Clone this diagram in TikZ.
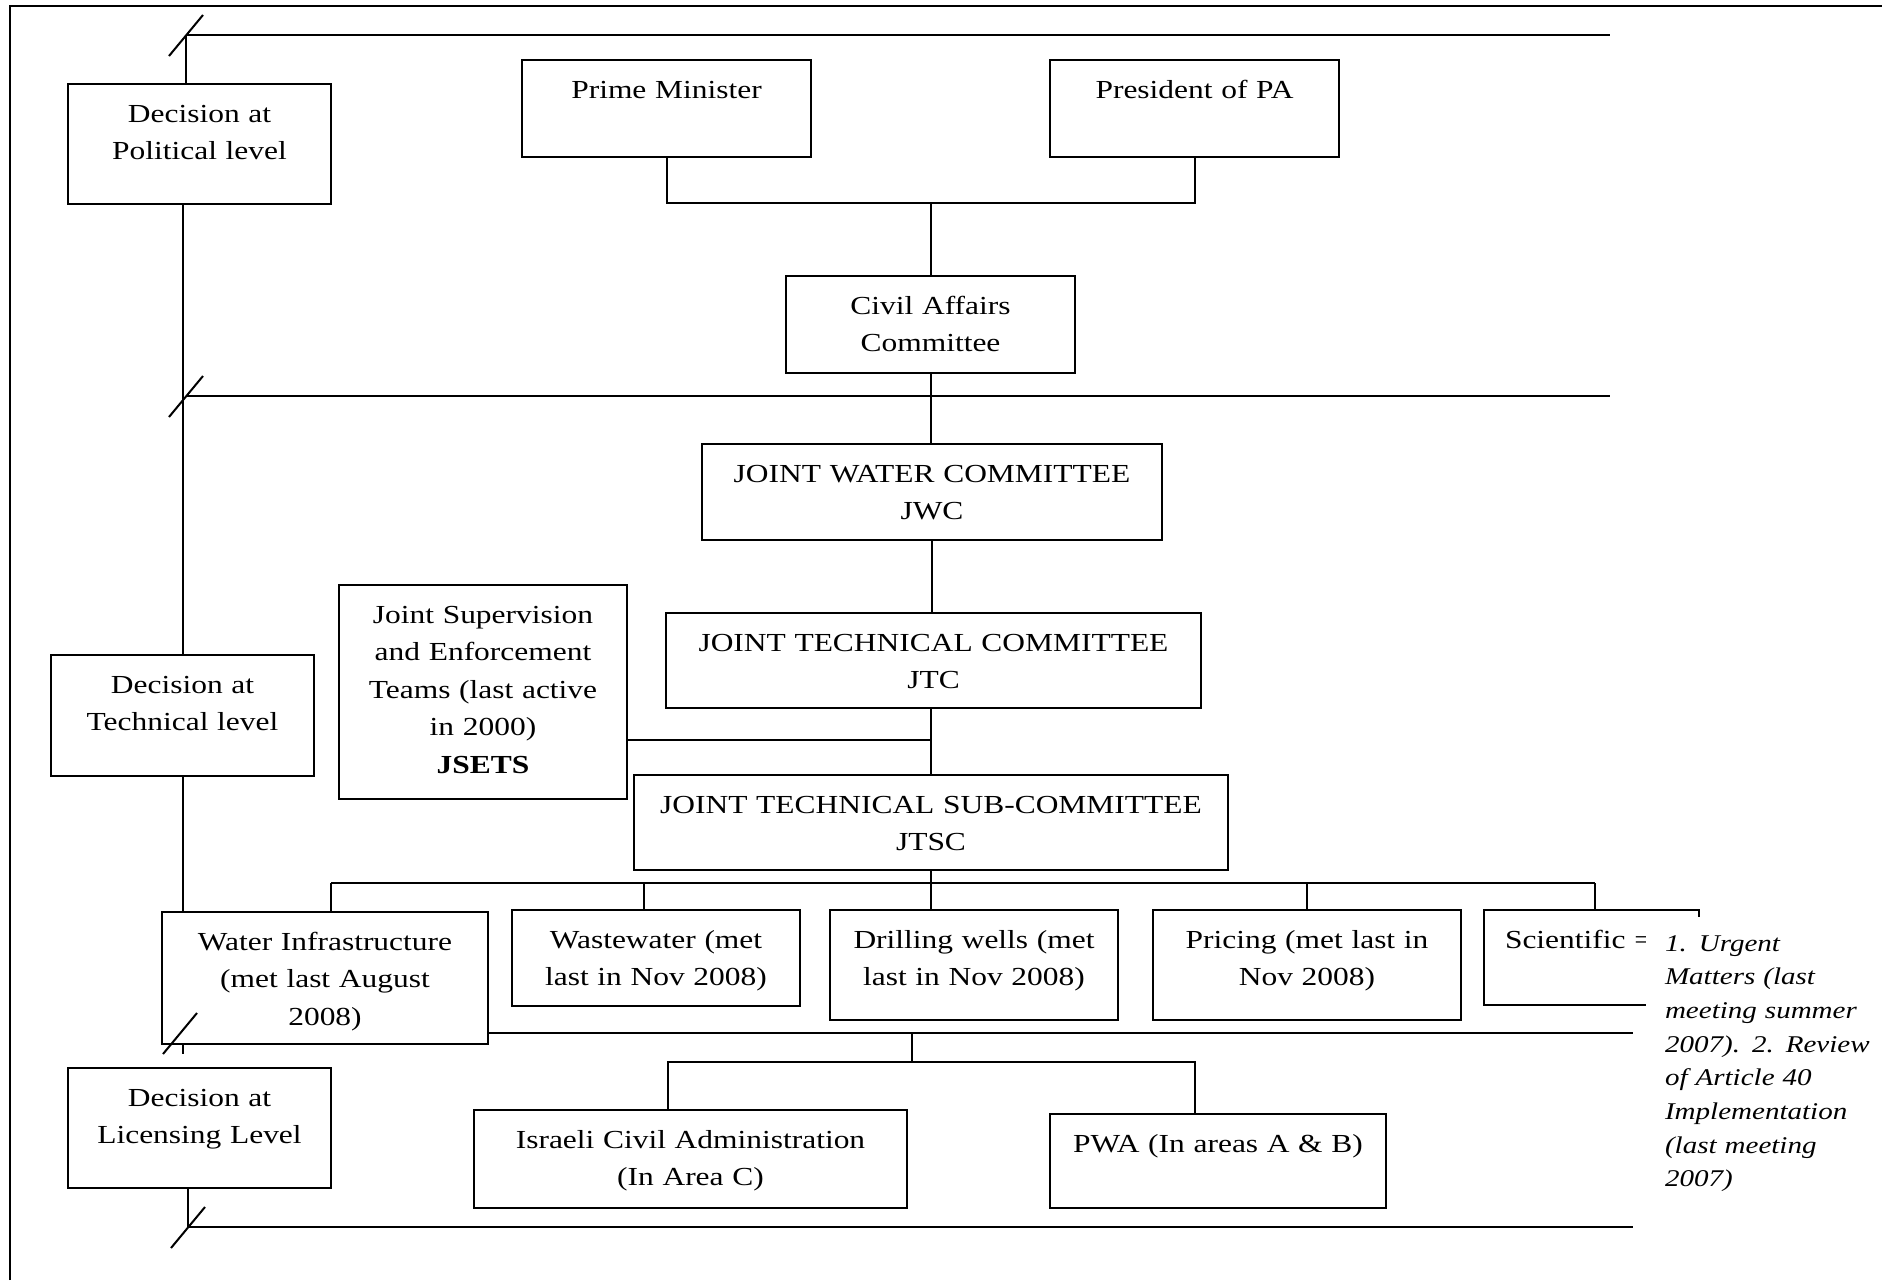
\documentclass[tikz,border=0pt]{standalone}
\usepackage{fontspec}
\setmainfont{Liberation Serif}[FakeStretch=1.21]

\begin{document}
\begin{tikzpicture}[x=0.5pt,y=-0.5pt,line width=1pt]
\tikzstyle{every node}=[font=\fontsize{13}{18.75}\selectfont]
\tikzstyle{box}=[draw, fill=white, inner sep=0pt, align=center, anchor=north, text height=19pt]
\tikzstyle{note}=[fill=white, inner xsep=9.5pt, inner ysep=0pt, anchor=north west, align=left, text width=115pt, text height=17pt, font=\fontsize{12}{16.85}\selectfont\itshape]

\useasboundingbox (0,0) rectangle (1882,1280);
\draw (10,1280) -- (10,6) -- (1882,6);

\node[box, text width=131.5pt, text depth=41pt] (pol) at (199.5,83) {Decision at\\Political level};
\node[box, text width=131.5pt, text depth=41.5pt] (tech) at (182.5,654) {Decision at\\Technical level};
\node[box, text width=131.5pt, text depth=41pt] (lic) at (199.5,1067) {Decision at\\Licensing Level};

\node[box, text width=144.5pt, text depth=29.5pt] (pm) at (666.5,59) {Prime Minister};
\node[box, text width=144.5pt, text depth=29.5pt] (pres) at (1194.5,59) {President of PA};
\node[box, text width=144.5pt, text depth=29.5pt] (civil) at (930.5,275) {Civil Affairs\\Committee};
\node[box, text width=230pt, text depth=29pt] (jwc) at (932,443) {JOINT WATER COMMITTEE\\JWC};
\node[box, text width=144pt, text depth=88pt] (jsets) at (483,584) {Joint Supervision\\and Enforcement\\Teams (last active\\in 2000)\\\textbf{JSETS}};
\node[box, text width=267.5pt, text depth=28.5pt] (jtc) at (933.5,612) {JOINT TECHNICAL COMMITTEE\\JTC};
\node[box, text width=297pt, text depth=28.5pt] (jtsc) at (931,774) {JOINT TECHNICAL SUB-COMMITTEE\\JTSC};

\node[box, text width=163pt, text depth=47pt] (water) at (325,911) {Water Infrastructure\\(met last August\\2008)};
\node[box, text width=144pt, text depth=29pt] (waste) at (656,909) {Wastewater (met\\last in Nov 2008)};
\node[box, text width=144pt, text depth=36pt] (drill) at (974,909) {Drilling wells (met\\last in Nov 2008)};
\node[box, text width=154pt, text depth=36pt] (price) at (1307,909) {Pricing (met last in\\Nov 2008)};
\node[box, text width=86.5pt, text depth=28.5pt, inner xsep=10.5pt, align=left] (sci) at (1591.5,909) {Scientific =};
\node[note] (urgent) at (1645,916) {1. Urgent\\Matters (last\\meeting summer\\2007). 2. Review\\of Article 40\\Implementation\\(last meeting\\2007)};

\node[box, text width=216.5pt, text depth=30pt] (ica) at (690.5,1109) {Israeli Civil Administration\\(In Area C)};
\node[box, text width=168pt, text depth=28pt] (pwa) at (1218,1113) {PWA (In areas A \& B)};

\coordinate (polL) at (186,35);
\coordinate (polR) at (1610,35);
\coordinate (techL) at (186,396);
\coordinate (techR) at (1610,396);
\coordinate (licL) at (180,1033);
\coordinate (licR) at (1633,1033);
\coordinate (botL) at (188,1227);
\coordinate (botR) at (1633,1227);

\draw (polL) -- (polR);
\draw (techL) -- (techR);
\draw (water.east |- licL) -- (licR);
\draw (botL) -- (botR);

\draw (polL) -- (polL |- pol.north);
\draw (pol.south -| tech.north) -- (tech.north);
\draw (tech.south) -- (tech.south |- water.north);
\draw (tech.south |- water.south) -- ++(0,9);
\draw (botL |- lic.south) -- (botL);

\coordinate (topjoin) at (930.5,203);
\draw (pm.south) |- (topjoin) -| (pres.south);
\draw (topjoin) -- (civil.north);
\draw (civil.south) -- (civil.south |- jwc.north);
\draw (jwc.south) -- (jwc.south |- jtc.north);
\draw (jtsc.north |- jtc.south) -- (jtsc.north);
\draw (jsets.east |- 0,740) -- (jtsc.north |- 0,740);
\draw (jtsc.south) -- (jtsc.south |- drill.north);

\coordinate (brL) at (331,883);
\coordinate (brR) at (1595,883);
\draw (brL) -- (brR);
\draw (brL) -- (brL |- water.north);
\draw (644,883) -- (waste.north -| 644,0);
\draw (price.north |- brR) -- (price.north);
\draw (brR) -- (brR |- sci.north);

\coordinate (lowjoin) at (912,1033);
\coordinate (lowbr) at (912,1062);
\draw (lowjoin) -- (lowbr);
\draw ([xshift=-11.5pt]ica.north) |- (lowbr) -| ([xshift=-11.5pt]pwa.north);

\draw (polL) ++(-17,21) -- ++(34,-41);
\draw (techL) ++(-17,21) -- ++(34,-41);
\draw (licL) ++(-17,21) -- ++(34,-41);
\draw (botL) ++(-17,21) -- ++(34,-41);
\end{tikzpicture}
\end{document}
